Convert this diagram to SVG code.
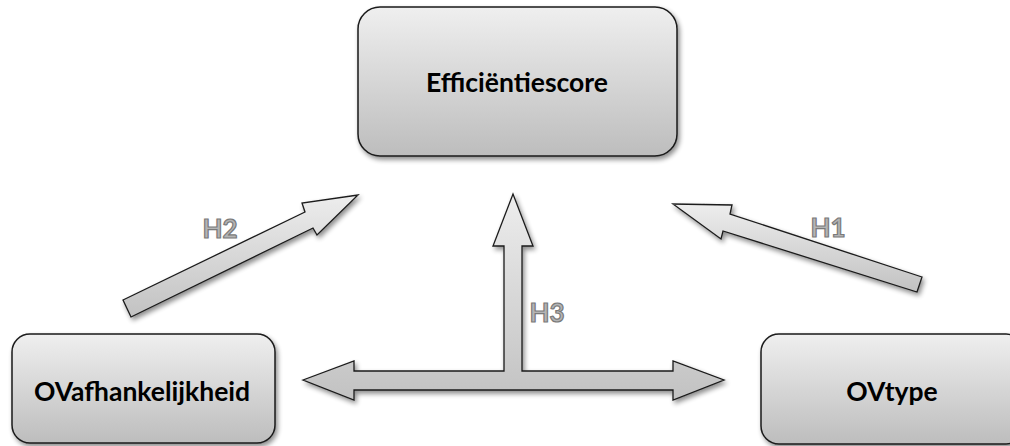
<svg xmlns="http://www.w3.org/2000/svg" width="1010" height="446" viewBox="0 0 1010 446">
<style>
.box{fill:url(#g);stroke:#1a1a1a;stroke-width:1.5;filter:url(#sh)}
.arr{fill:url(#ga);stroke:#1a1a1a;stroke-width:1.3;stroke-linejoin:miter;filter:url(#sh)}
.lbl{font-family:Lato,"Open Sans","Liberation Sans",sans-serif;font-weight:bold;font-size:26.5px;fill:#000;text-anchor:middle}
.h{font-family:Lato,"Liberation Sans",sans-serif;font-weight:bold;font-size:26px;fill:#b4b4b4;stroke:#7a7a7a;stroke-width:1.2;text-anchor:middle}
</style>
<defs>
<linearGradient id="g" x1="0" y1="0" x2="0" y2="1">
<stop offset="0" stop-color="#efefef"/>
<stop offset="1" stop-color="#bdbdbd"/>
</linearGradient>
<linearGradient id="ga" x1="0" y1="0" x2="0" y2="1">
<stop offset="0" stop-color="#ededed"/>
<stop offset="1" stop-color="#c2c2c2"/>
</linearGradient>
<filter id="sh" x="-10%" y="-10%" width="125%" height="130%">
<feGaussianBlur in="SourceAlpha" stdDeviation="2.5"/>
<feOffset dx="2" dy="3" result="b"/>
<feComponentTransfer><feFuncA type="linear" slope="0.45"/></feComponentTransfer>
<feMerge><feMergeNode/><feMergeNode in="SourceGraphic"/></feMerge>
</filter>
</defs>
<g id="connectors">
<path class="arr" d="M123,300 L305,212 L302,203 L358,195 L317,235 L313,228 L131,317 Z"/>
<path class="arr" d="M922,277 L730,214 L732,205 L673,204 L721,239 L723,231 L917,292 Z"/>
<path class="arr" d="M303,380 L354,361 L354,371 L504,371 L504,246 L493,246 L513,194 L533,246 L522,246 L522,371 L673,371 L673,361 L724,380 L673,400 L673,390 L354,390 L354,400 Z"/>
<text class="h" x="220" y="238">H2</text>
<text class="h" x="828" y="237">H1</text>
<text class="h" x="547" y="322">H3</text>
</g>
<g id="node-efficientiescore">
<rect class="box" x="358" y="7" width="319" height="149" rx="22"/>
<text class="lbl" x="517" y="92">Efficiëntiescore</text>
</g>
<g id="node-ovafhankelijkheid">
<rect class="box" x="12" y="334" width="263" height="109" rx="18"/>
<text class="lbl" x="142" y="401">OVafhankelijkheid</text>
</g>
<g id="node-ovtype">
<rect class="box" x="761" y="334" width="263" height="110" rx="18"/>
<text class="lbl" x="892" y="401">OVtype</text>
</g>
</svg>
